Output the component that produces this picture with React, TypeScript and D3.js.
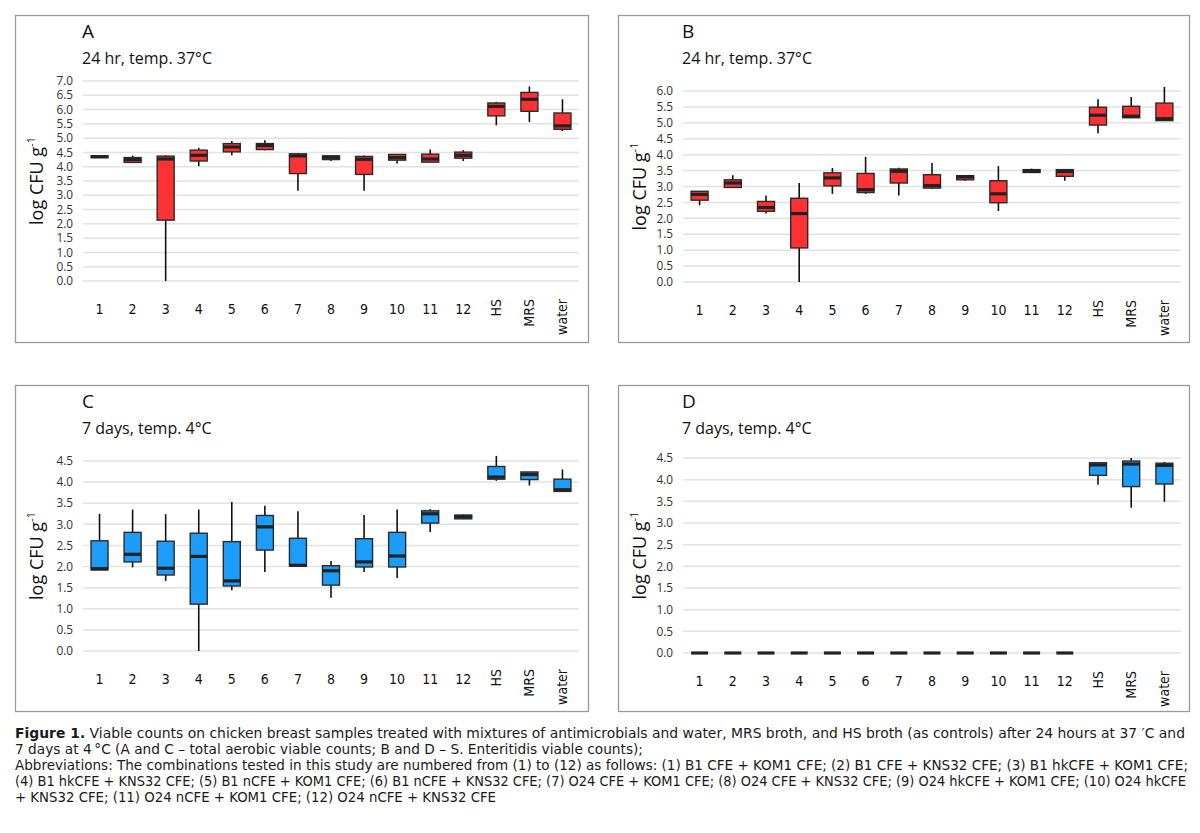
import * as d3 from 'd3';
import React, { useEffect, useRef } from 'react';

// box stats per category: [min, q1, median, q3, max]
const categories = ['1', '2', '3', '4', '5', '6', '7', '8', '9', '10', '11', '12', 'HS', 'MRS', 'water'];
const rotatedLabels = ['HS', 'MRS', 'water'];

const boxesA: number[][] = [
  [4.32, 4.32, 4.35, 4.38, 4.38],
  [4.15, 4.15, 4.25, 4.32, 4.39],
  [0, 2.13, 4.27, 4.37, 4.4],
  [4.02, 4.2, 4.4, 4.58, 4.66],
  [4.4, 4.52, 4.69, 4.81, 4.9],
  [4.58, 4.6, 4.74, 4.81, 4.93],
  [3.16, 3.76, 4.38, 4.45, 4.48],
  [4.2, 4.25, 4.33, 4.38, 4.38],
  [3.16, 3.73, 4.26, 4.36, 4.39],
  [4.11, 4.23, 4.32, 4.43, 4.43],
  [4.16, 4.16, 4.27, 4.44, 4.6],
  [4.2, 4.3, 4.4, 4.51, 4.58],
  [5.45, 5.78, 6.11, 6.23, 6.27],
  [5.56, 5.94, 6.36, 6.6, 6.81],
  [5.25, 5.31, 5.43, 5.88, 6.36],
];

const boxesB: number[][] = [
  [2.41, 2.57, 2.75, 2.85, 2.85],
  [2.95, 2.97, 3.11, 3.21, 3.35],
  [2.15, 2.22, 2.34, 2.53, 2.72],
  [0, 1.07, 2.15, 2.63, 3.11],
  [2.77, 3.02, 3.27, 3.43, 3.58],
  [2.77, 2.81, 2.9, 3.41, 3.93],
  [2.72, 3.11, 3.48, 3.55, 3.59],
  [2.92, 2.95, 3.03, 3.37, 3.74],
  [3.18, 3.21, 3.3, 3.34, 3.34],
  [2.23, 2.49, 2.77, 3.18, 3.64],
  [3.44, 3.44, 3.49, 3.53, 3.56],
  [3.18, 3.32, 3.47, 3.53, 3.53],
  [4.67, 4.93, 5.24, 5.49, 5.74],
  [5.16, 5.16, 5.21, 5.52, 5.81],
  [5.07, 5.07, 5.13, 5.62, 6.13],
];

const boxesC: number[][] = [
  [1.92, 1.92, 1.95, 2.61, 3.25],
  [1.98, 2.11, 2.29, 2.81, 3.35],
  [1.66, 1.8, 1.96, 2.6, 3.24],
  [0, 1.11, 2.24, 2.79, 3.35],
  [1.44, 1.54, 1.66, 2.59, 3.53],
  [1.87, 2.39, 2.94, 3.21, 3.44],
  [2.01, 2.01, 2.03, 2.67, 3.31],
  [1.26, 1.56, 1.9, 2.02, 2.13],
  [1.87, 1.99, 2.11, 2.66, 3.22],
  [1.73, 1.99, 2.25, 2.81, 3.35],
  [2.82, 3.03, 3.25, 3.32, 3.36],
  [3.13, 3.13, 3.18, 3.22, 3.23],
  [4.03, 4.07, 4.12, 4.37, 4.62],
  [3.92, 4.06, 4.18, 4.24, 4.24],
  [3.78, 3.78, 3.82, 4.07, 4.3],
];

const boxesD: number[][] = [
  [0, 0, 0, 0, 0],
  [0, 0, 0, 0, 0],
  [0, 0, 0, 0, 0],
  [0, 0, 0, 0, 0],
  [0, 0, 0, 0, 0],
  [0, 0, 0, 0, 0],
  [0, 0, 0, 0, 0],
  [0, 0, 0, 0, 0],
  [0, 0, 0, 0, 0],
  [0, 0, 0, 0, 0],
  [0, 0, 0, 0, 0],
  [0, 0, 0, 0, 0],
  [3.88, 4.1, 4.34, 4.39, 4.39],
  [3.35, 3.84, 4.36, 4.43, 4.5],
  [3.49, 3.9, 4.33, 4.38, 4.41],
];

const captionLines = [
  'Viable counts on chicken breast samples treated with mixtures of antimicrobials and water, MRS broth, and HS broth (as controls) after 24 hours at 37 \u2032C and',
  '7 days at 4\u2009\u00b0C (A and C \u2013 total aerobic viable counts; B and D \u2013 S. Enteritidis viable counts);',
  'Abbreviations: The combinations tested in this study are numbered from (1) to (12) as follows: (1) B1 CFE + KOM1 CFE; (2) B1 CFE + KNS32 CFE; (3) B1 hkCFE + KOM1 CFE;',
  '(4) B1 hkCFE + KNS32 CFE; (5) B1 nCFE + KOM1 CFE; (6) B1 nCFE + KNS32 CFE; (7) O24 CFE + KOM1 CFE; (8) O24 CFE + KNS32 CFE; (9) O24 hkCFE + KOM1 CFE; (10) O24 hkCFE',
  '+ KNS32  CFE; (11) O24 nCFE + KOM1 CFE; (12) O24 nCFE + KNS32 CFE',
];
const captionWidths = [1170, 628, 1173, 1171, 481];

const width = 1200;
const height = 833;
const sans = '"Open Sans", "Noto Sans", sans-serif';
const narrow = '"DejaVu Sans Condensed", "DejaVu Sans", sans-serif';

interface Panel {
  letter: string;
  subtitle: string;
  data: number[][];
  yMax: number;
  color: string;
  frame: [number, number, number, number];
  plot: [number, number, number, number];
}

const panels: Panel[] = [
  { letter: 'A', subtitle: '24 hr, temp. 37°C', data: boxesA, yMax: 7, color: '#fe3232', frame: [15, 15, 588, 342], plot: [83, 81, 579, 281] },
  { letter: 'B', subtitle: '24 hr, temp. 37°C', data: boxesB, yMax: 6, color: '#fe3232', frame: [618, 15, 1189, 342], plot: [683, 91, 1181, 282] },
  { letter: 'C', subtitle: '7 days, temp. 4°C', data: boxesC, yMax: 4.5, color: '#1c9dfa', frame: [15, 385, 588, 711], plot: [83, 461, 579, 651] },
  { letter: 'D', subtitle: '7 days, temp. 4°C', data: boxesD, yMax: 4.5, color: '#1c9dfa', frame: [618, 385, 1189, 711], plot: [683, 458, 1181, 653] },
];

const App: React.FC = () => {
  const ref = useRef<SVGSVGElement>(null);
  useEffect(() => {
    const svg = d3.select(ref.current);
    svg.selectAll('*').remove();
    svg.append('rect').attr('width', width).attr('height', height).attr('fill', '#fff');

    panels.forEach((p) => {
      const [fx0, fy0, fx1, fy1] = p.frame;
      const [px0, py0, px1, py1] = p.plot;
      const g = svg.append('g');
      g.append('rect')
        .attr('x', fx0 + 0.5)
        .attr('y', fy0 + 0.5)
        .attr('width', fx1 - fx0)
        .attr('height', fy1 - fy0)
        .attr('fill', 'none')
        .attr('stroke', '#9a9a9a')
        .attr('stroke-width', 1.3);

      const x = d3.scaleBand<string>().domain(categories).range([px0, px1]);
      const y = d3.scaleLinear().domain([0, p.yMax]).range([py1, py0]);
      const cx = (c: string) => (x(c) || 0) + x.bandwidth() / 2;
      const ticks = d3.range(0, p.yMax + 0.001, 0.5);

      g.selectAll('.grid')
        .data(ticks)
        .join('line')
        .attr('x1', px0)
        .attr('x2', px1)
        .attr('y1', (d) => y(d))
        .attr('y2', (d) => y(d))
        .attr('stroke', '#e2e2e2')
        .attr('stroke-width', 1.5);

      g.selectAll('.ytick')
        .data(ticks)
        .join('text')
        .attr('x', px0 - 10)
        .attr('y', (d) => y(d) + 4.2)
        .attr('text-anchor', 'end')
        .attr('font-family', sans)
        .attr('font-size', 11.8)
        .attr('fill', '#333')
        .text((d) => d.toFixed(1));

      // titles
      g.append('text')
        .attr('x', px0 - 1)
        .attr('y', fy0 + 23)
        .attr('font-family', sans)
        .attr('font-size', 19)
        .attr('fill', '#111')
        .text(p.letter);
      g.append('text')
        .attr('x', px0 - 1)
        .attr('y', fy0 + 49)
        .attr('font-family', sans)
        .attr('font-size', 16)
        .attr('fill', '#111')
        .text(p.subtitle);

      const yl = g
        .append('text')
        .attr('transform', `translate(${fx0 + 28},${(py0 + py1) / 2}) rotate(-90)`)
        .attr('text-anchor', 'middle')
        .attr('font-family', sans)
        .attr('font-size', 18)
        .attr('fill', '#111');
      yl.append('tspan').text('log CFU g');
      yl.append('tspan').attr('dy', -8).attr('font-size', 11).text('-1');

      // category labels
      categories.forEach((c) => {
        if (rotatedLabels.includes(c)) {
          g.append('text')
            .attr('transform', `translate(${cx(c) + 5},${py1 + 18}) rotate(-90)`)
            .attr('text-anchor', 'end')
            .attr('font-family', narrow)
            .style('font-stretch', 'condensed')
            .attr('font-size', 14)
            .attr('fill', '#111')
            .text(c);
        } else {
          g.append('text')
            .attr('x', cx(c))
            .attr('y', py1 + 33)
            .attr('text-anchor', 'middle')
            .attr('font-family', narrow)
            .style('font-stretch', 'condensed')
            .attr('font-size', 14)
            .attr('fill', '#111')
            .text(c);
        }
      });

      // boxes
      const bw = 17;
      p.data.forEach((d, i) => {
        const c = categories[i];
        const xc = cx(c);
        const [mn, q1, md, q3, mx] = d;
        g.append('line')
          .attr('x1', xc)
          .attr('x2', xc)
          .attr('y1', y(mx))
          .attr('y2', y(q3))
          .attr('stroke', '#111')
          .attr('stroke-width', 1.6);
        g.append('line')
          .attr('x1', xc)
          .attr('x2', xc)
          .attr('y1', y(q1))
          .attr('y2', y(mn))
          .attr('stroke', '#111')
          .attr('stroke-width', 1.6);
        g.append('rect')
          .attr('x', xc - bw / 2)
          .attr('y', y(q3))
          .attr('width', bw)
          .attr('height', Math.max(0, y(q1) - y(q3)))
          .attr('fill', p.color)
          .attr('stroke', '#2a2a2a')
          .attr('stroke-width', 1.4);
        g.append('line')
          .attr('x1', xc - bw / 2)
          .attr('x2', xc + bw / 2)
          .attr('y1', y(md))
          .attr('y2', y(md))
          .attr('stroke', '#222')
          .attr('stroke-width', 3.2);
      });
    });

    // caption
    const cap = svg
      .append('g')
      .attr('font-family', narrow)
      .style('font-stretch', 'condensed')
      .attr('font-size', 14)
      .attr('fill', '#1a1a1a');
    captionLines.forEach((line, i) => {
      const t = cap
        .append('text')
        .attr('x', 15)
        .attr('y', 738 + i * 16)
        .attr('textLength', captionWidths[i])
        .attr('lengthAdjust', 'spacingAndGlyphs');
      if (i === 0) {
        t.append('tspan').attr('font-weight', 'bold').text('Figure 1.');
        t.append('tspan').text(' ' + line);
      } else {
        t.text(line);
      }
    });
  }, []);
  return (
    <div className="figure">
      <svg ref={ref} width={width} height={height} style={{ position: 'absolute', left: 0, top: 0 }}></svg>
    </div>
  );
};

export default App;
